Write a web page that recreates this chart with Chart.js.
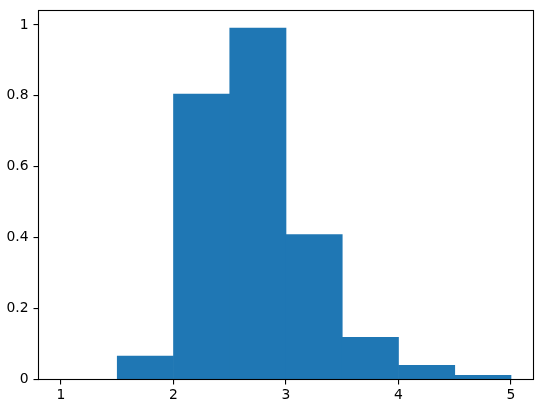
<!DOCTYPE html>
<html>
<head>
<meta charset="utf-8">
<script src="https://cdn.jsdelivr.net/npm/chart.js@4/dist/chart.umd.min.js"></script>
<style>
  body{margin:0;background:#fff;}
  #wrap{width:546px;height:409px;position:relative;}
</style>
</head>
<body>
<div id="wrap"><canvas id="hist"></canvas></div>
<script>
const binEdges = [1, 1.5, 2, 2.5, 3, 3.5, 4, 4.5, 5];
const binHeights = [0, 0.066, 0.805, 0.991, 0.409, 0.119, 0.040, 0.012];
const xTicks = [1, 2, 3, 4, 5];
const yTicks = [0, 0.2, 0.4, 0.6, 0.8, 1];

// empty bins are left out so no hairline is drawn on the axis
const points = binHeights.map((h, i) => ({x: (binEdges[i] + binEdges[i+1]) / 2, y: h > 0 ? h : null}));

Chart.defaults.font.family = "'DejaVu Sans', sans-serif";
Chart.defaults.font.size = 13.9;
Chart.defaults.color = "#000";

// box around the plot area (matplotlib style spines), drawn over the bars
const frame = {
    id: "frame",
    afterDraw(chart){
        const a = chart.chartArea, c = chart.ctx;
        c.save();
        c.strokeStyle = "#000";
        c.lineWidth = 1.1;
        c.strokeRect(a.left, a.top, a.right - a.left, a.bottom - a.top);
        c.restore();
    }
};

new Chart(document.getElementById("hist"), {
    type: "bar",
    data: {
        datasets: [{
            data: points,
            backgroundColor: "#1f77b4",
            borderWidth: 0,
            barPercentage: 1,
            categoryPercentage: 1
        }]
    },
    options: {
        responsive: true,
        maintainAspectRatio: false,
        animation: false,
        layout: {padding: {left: 0, top: 10.5, right: 12.5, bottom: 0}},
        plugins: {legend: {display: false}, tooltip: {enabled: false}},
        scales: {
            x: {
                type: "linear",
                min: 0.8,
                max: 5.2,
                offset: false,
                afterBuildTicks: s => { s.ticks = xTicks.map(v => ({value: v})); },
                afterFit: s => { s.height = 29.5; s.paddingLeft = 0; s.paddingRight = 0; },
                grid: {offset: false, drawOnChartArea: false, drawTicks: true, tickLength: 5, color: "#000", lineWidth: 1.1},
                border: {display: false},
                ticks: {padding: 3, color: "#000", maxRotation: 0}
            },
            y: {
                type: "linear",
                min: 0,
                max: 1.0406,
                afterBuildTicks: s => { s.ticks = yTicks.map(v => ({value: v})); },
                afterFit: s => { s.width = 38.5; s.paddingTop = 0; s.paddingBottom = 0; },
                grid: {drawOnChartArea: false, drawTicks: true, tickLength: 5, color: "#000", lineWidth: 1.1},
                border: {display: false},
                ticks: {padding: 5, color: "#000", callback: v => String(v)}
            }
        }
    },
    plugins: [frame]
});
</script>
</body>
</html>
